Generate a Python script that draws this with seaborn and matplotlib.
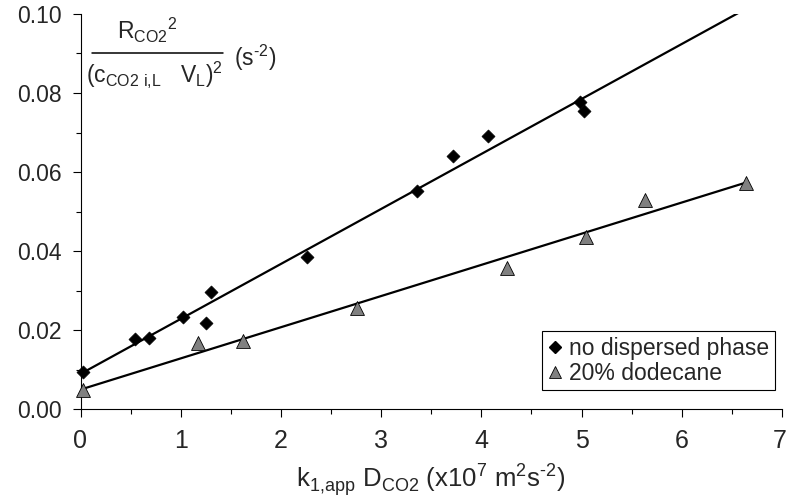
import matplotlib
matplotlib.use("Agg")
import matplotlib.pyplot as plt
from matplotlib import font_manager
from matplotlib.lines import Line2D
from matplotlib.ticker import MultipleLocator, FormatStrFormatter
from matplotlib.transforms import ScaledTranslation
import pandas as pd
import seaborn as sns

# k1,app * D_CO2 (x1e7 m2 s-2) and R_CO2^2 / (c_CO2,i,L * V_L)^2 (s-2)
x_plain = [0.023, 0.547, 0.683, 1.023, 1.25, 1.307, 2.26, 3.36, 3.72, 4.07, 4.985, 5.025]
y_plain = [0.0093, 0.0178, 0.0181, 0.0233, 0.0217, 0.0295, 0.0386, 0.0553, 0.0641, 0.0692, 0.0776, 0.0754]

x_dodecane = [0.023, 1.177, 1.617, 2.76, 4.26, 5.04, 5.63, 6.64]
y_dodecane = [0.0049, 0.0166, 0.0172, 0.0255, 0.0358, 0.0436, 0.0529, 0.0571]

series_labels = ["no dispersed phase", "20% dodecane"]
x_ticks = [0, 1, 2, 3, 4, 5, 6, 7]
y_ticks = [0.00, 0.02, 0.04, 0.06, 0.08, 0.10]

sns.set_style("ticks")
plt.rcParams["font.family"] = ["Liberation Sans", "DejaVu Sans"]
plt.rcParams["axes.linewidth"] = 0.8


def font_available(name):
    try:
        font_manager.findfont(font_manager.FontProperties(family=name),
                              fallback_to_default=False)
        return True
    except ValueError:
        return False


narrow = "Liberation Sans Narrow" if font_available("Liberation Sans Narrow") else "Liberation Sans"

W, H = 787, 497
fig = plt.figure(figsize=(W / 100, H / 100), dpi=100)
left, right, top, bottom = 80.5, 782, 14, 409
ax = fig.add_axes([left / W, 1 - bottom / H, (right - left) / W, (bottom - top) / H])
ax.set_xlim(x_ticks[0], x_ticks[-1])
ax.set_ylim(y_ticks[0], y_ticks[-1])

df_plain = pd.DataFrame({"x": x_plain, "y": y_plain})
df_dod = pd.DataFrame({"x": x_dodecane, "y": y_dodecane})

# linear trend lines
sns.regplot(data=df_plain, x="x", y="y", ax=ax, ci=None, truncate=False,
            scatter=False, line_kws=dict(color="black", lw=1.6))
sns.regplot(data=df_dod, x="x", y="y", ax=ax, ci=None, truncate=True,
            scatter=False, line_kws=dict(color="black", lw=1.6))

# measured points
sns.scatterplot(data=df_plain, x="x", y="y", ax=ax, marker="D", s=44,
                color="black", edgecolor="black", linewidth=0.5,
                zorder=4, clip_on=False, legend=False)
sns.scatterplot(data=df_dod, x="x", y="y", ax=ax, marker="^", s=100,
                color="#808080", edgecolor="black", linewidth=0.6,
                zorder=4, clip_on=False, legend=False)

ax.set_xlim(x_ticks[0], x_ticks[-1])
ax.set_ylim(y_ticks[0], y_ticks[-1])

sns.despine(ax=ax)
for side in ("left", "bottom"):
    ax.spines[side].set_color("black")
    ax.spines[side].set_linewidth(0.8)

ax.set_xticks(x_ticks)
ax.set_yticks(y_ticks)
ax.xaxis.set_minor_locator(MultipleLocator(0.5))
ax.yaxis.set_minor_locator(MultipleLocator(0.01))
ax.xaxis.set_major_formatter(FormatStrFormatter("%d"))
ax.yaxis.set_major_formatter(FormatStrFormatter("%.2f"))
ax.tick_params(which="both", direction="out", color="black", width=0.8)
ax.tick_params(which="major", length=5.5)
ax.tick_params(which="minor", length=3.5)
ax.tick_params(axis="y", which="major", pad=8, labelsize=16.5)
ax.tick_params(axis="x", which="major", pad=9, labelsize=18)
xlabels = ax.get_xticklabels()
for lbl in xlabels:
    lbl.set_fontfamily(narrow)
# keep the last tick label inside the figure edge
xlabels[-1].set_transform(xlabels[-1].get_transform()
                          + ScaledTranslation(-2.5 / 100, 0, fig.dpi_scale_trans))

ax.set_ylabel("")
ax.set_xlabel("k$_{\\mathregular{1{,}app}}$ D$_{\\mathregular{CO2}}$ "
              "(x10$^{\\mathregular{7}}$ m$^{\\mathregular{2}}$s$^{\\mathregular{\u20102}}$)",
              fontfamily=narrow, fontsize=18.5, labelpad=6)


def fx(px):
    return px / W


def fy(py):
    return 1 - py / H


# y quantity written as a fraction in the upper-left corner
frac_size = 16.5
fig.text(fx(117), fy(39), r"R$_{\mathregular{CO2}}$$^{\mathregular{2}}$",
         fontsize=frac_size, ha="left", va="baseline")
fig.add_artist(Line2D([fx(91.5), fx(222.5)], [fy(52.7), fy(52.7)],
                      color="black", lw=1.1))
fig.text(fx(86), fy(82), r"(c$_{\mathregular{CO2\ i{,}L}}$   V$_{\mathregular{L}}$)$^{\mathregular{2}}$",
         fontsize=frac_size, ha="left", va="baseline")
fig.text(fx(234), fy(66), "(s$^{\\mathregular{\u20102}}$)",
         fontsize=frac_size, ha="left", va="baseline")

handles = [
    Line2D([], [], marker="D", linestyle="none", color="black",
           markeredgecolor="black", markersize=6.2),
    Line2D([], [], marker="^", linestyle="none", color="#808080",
           markeredgecolor="black", markeredgewidth=0.6, markersize=8.5),
]
leg = ax.legend(handles, series_labels, loc="upper right",
                bbox_to_anchor=(fx(775), fy(331)), bbox_transform=fig.transFigure,
                fontsize=16.5, frameon=True, fancybox=False, framealpha=1,
                edgecolor="black", borderpad=0.25, labelspacing=0.08,
                handlelength=0.7, handletextpad=0.25, borderaxespad=0)
leg.get_frame().set_linewidth(0.8)

fig.savefig("out.png", dpi=100)
